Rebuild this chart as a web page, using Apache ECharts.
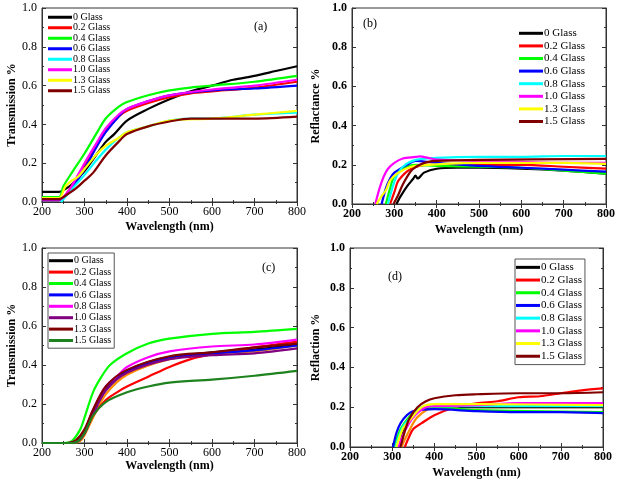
<!DOCTYPE html>
<html><head><meta charset="utf-8">
<script src="https://cdn.jsdelivr.net/npm/echarts@6/dist/echarts.min.js"></script>
<style>html,body{margin:0;padding:0;background:#fff}#c{width:618px;height:480px}</style>
</head><body><div id="c"></div>
<script>
// ---------- DATA ----------
const glassNames = ['0 Glass','0.2 Glass','0.4 Glass','0.6 Glass','0.8 Glass','1.0 Glass','1.3 Glass','1.5 Glass'];
const xTicks = [200,300,400,500,600,700,800];
const yTicks = [0.0,0.2,0.4,0.6,0.8,1.0];

// (a) Transmission
const a_00 = [[200,0.052],[240,0.052],[250,0.06],[270,0.09],[300,0.16],[330,0.25],[350,0.31],[370,0.35],[400,0.42],[450,0.48],[500,0.53],[550,0.57],[600,0.60],[650,0.63],[700,0.65],[750,0.675],[800,0.70]];
const a_02 = [[200,0.01],[240,0.01],[260,0.05],[280,0.12],[300,0.19],[330,0.30],[350,0.37],[380,0.44],[400,0.47],[450,0.51],[500,0.54],[550,0.56],[600,0.57],[700,0.59],[800,0.62]];
const a_04 = [[200,0.025],[240,0.025],[250,0.08],[270,0.15],[300,0.25],[330,0.36],[350,0.43],[380,0.49],[400,0.515],[450,0.55],[500,0.575],[550,0.59],[600,0.60],[700,0.62],[800,0.65]];
const a_06 = [[200,0.01],[240,0.01],[260,0.04],[280,0.10],[300,0.17],[330,0.29],[350,0.36],[380,0.44],[400,0.48],[450,0.52],[500,0.55],[600,0.575],[700,0.585],[800,0.60]];
const a_08 = [[245,0],[260,0.04],[280,0.09],[300,0.14],[330,0.22],[350,0.27],[380,0.33],[400,0.36],[450,0.39],[500,0.42],[550,0.43],[600,0.43],[700,0.45],[800,0.46]];
const a_10 = [[200,0.012],[240,0.012],[260,0.05],[280,0.12],[300,0.20],[330,0.31],[350,0.38],[380,0.45],[400,0.48],[450,0.52],[500,0.55],[600,0.58],[700,0.60],[800,0.63]];
const a_13 = [[200,0.02],[240,0.02],[255,0.08],[270,0.11],[285,0.13],[300,0.17],[330,0.25],[350,0.29],[380,0.33],[400,0.36],[450,0.39],[500,0.42],[600,0.43],[700,0.45],[800,0.47]];
const a_15 = [[200,0.015],[240,0.015],[260,0.04],[280,0.07],[300,0.11],[320,0.15],[350,0.24],[380,0.31],[400,0.35],[450,0.39],[500,0.415],[550,0.43],[600,0.43],[700,0.43],[800,0.44]];

// (b) Reflactance
const b_00 = [[305,0],[315,0.04],[330,0.09],[345,0.13],[350,0.145],[355,0.13],[370,0.16],[400,0.18],[450,0.185],[500,0.185],[600,0.18],[700,0.17],[800,0.155]];
const b_02 = [[290,0],[300,0.06],[310,0.12],[340,0.18],[380,0.2],[500,0.2],[600,0.2],[700,0.19],[800,0.18]];
const b_04 = [[280,0],[290,0.08],[300,0.14],[330,0.19],[350,0.2],[400,0.195],[500,0.19],[600,0.185],[700,0.17],[800,0.155]];
const b_06 = [[270,0],[280,0.08],[290,0.13],[300,0.16],[330,0.2],[350,0.22],[400,0.21],[500,0.195],[600,0.185],[700,0.175],[800,0.165]];
const b_08 = [[285,0],[295,0.08],[305,0.14],[320,0.19],[350,0.225],[400,0.235],[500,0.24],[600,0.24],[700,0.245],[800,0.245]];
const b_10 = [[255,0],[265,0.08],[275,0.14],[285,0.18],[300,0.21],[320,0.232],[350,0.24],[360,0.243],[380,0.235],[400,0.227],[500,0.22],[600,0.215],[700,0.21],[800,0.21]];
const b_13 = [[258,0],[270,0.04],[280,0.07],[290,0.12],[310,0.16],[340,0.19],[380,0.2],[500,0.21],[700,0.21],[800,0.205]];
const b_15 = [[298,0],[310,0.05],[320,0.1],[340,0.17],[360,0.2],[380,0.215],[400,0.22],[500,0.225],[800,0.23]];

// (c) Transmission
const c_00 = [[200,0],[260,0],[280,0.01],[300,0.06],[320,0.16],[350,0.28],[380,0.34],[400,0.37],[450,0.415],[500,0.44],[600,0.465],[700,0.48],[800,0.505]];
const c_02 = [[200,0],[270,0],[290,0.02],[300,0.05],[320,0.14],[350,0.22],[380,0.265],[400,0.29],[450,0.34],[500,0.39],[550,0.43],[600,0.455],[700,0.49],[800,0.52]];
const c_04 = [[200,0],[250,0],[270,0.01],[290,0.07],[300,0.13],[320,0.26],[340,0.34],[360,0.4],[400,0.46],[450,0.51],[500,0.535],[600,0.56],[700,0.57],[800,0.585]];
const c_06 = [[200,0],[265,0],[285,0.01],[300,0.05],[320,0.15],[350,0.27],[400,0.365],[500,0.44],[600,0.46],[700,0.475],[800,0.5]];
const c_08 = [[200,0],[260,0],[280,0.01],[300,0.06],[320,0.17],[350,0.29],[380,0.35],[400,0.39],[450,0.44],[500,0.47],[600,0.495],[700,0.505],[800,0.53]];
const c_10 = [[200,0],[265,0],[285,0.01],[300,0.05],[320,0.15],[350,0.27],[400,0.36],[500,0.43],[600,0.45],[700,0.46],[800,0.485]];
const c_13 = [[200,0],[260,0],[280,0.015],[300,0.07],[320,0.17],[350,0.29],[400,0.375],[500,0.445],[600,0.465],[700,0.49],[800,0.51]];
const c_15 = [[200,0],[270,0],[285,0.01],[300,0.05],[320,0.14],[350,0.21],[400,0.26],[450,0.29],[500,0.31],[600,0.325],[700,0.345],[800,0.37]];
const c_extra = [[200,0],[270,0],[290,0.01],[300,0.04],[320,0.13],[350,0.25],[400,0.35],[500,0.43],[600,0.46],[700,0.47],[800,0.5]];

// (d) Reflaction
const d_00 = [[318,0],[330,0.1],[350,0.17],[400,0.2],[500,0.2],[800,0.2]];
const d_02 = [[330,0],[340,0.05],[350,0.09],[370,0.12],[400,0.16],[450,0.2],[500,0.22],[550,0.23],[600,0.25],[650,0.255],[700,0.27],[750,0.285],[800,0.295]];
const d_04 = [[305,0],[320,0.09],[340,0.15],[360,0.19],[400,0.2],[500,0.185],[800,0.175]];
const d_06 = [[302,0],[310,0.07],[320,0.12],[335,0.16],[350,0.18],[400,0.19],[500,0.18],[600,0.175],[700,0.175],[800,0.17]];
const d_08 = [[308,0],[325,0.1],[340,0.14],[370,0.2],[400,0.205],[600,0.205],[800,0.205]];
const d_10 = [[315,0],[330,0.08],[350,0.15],[380,0.2],[400,0.205],[500,0.21],[600,0.22],[800,0.22]];
const d_13 = [[310,0],[325,0.09],[340,0.13],[370,0.2],[400,0.215],[500,0.215],[800,0.21]];
const d_15 = [[320,0],[330,0.08],[340,0.14],[360,0.2],[380,0.23],[400,0.245],[450,0.26],[500,0.265],[600,0.27],[700,0.27],[800,0.275]];
const d_extra = [[322,0],[340,0.08],[360,0.15],[400,0.2],[500,0.2],[800,0.2]];

// ---------- STYLE / LAYOUT ----------
const SERIF = '"Liberation Serif","DejaVu Serif",serif';
const colsStd = ['#000000','#ff0000','#00ff00','#0000ff','#00ffff','#ff00ff','#ffff00','#800000'];
const colsC   = ['#000000','#ff0000','#00ff00','#0000ff','#ff00ff','#800080','#800000','#1e821e'];
const ORANGE = '#ff8c00';

const panels = [
  {key:'a', grid:{left:42,top:8,width:255,height:194}, yName:'Transmission %', yGap:24, xGap:19, bold:false, fs:12,
   data:[a_00,a_02,a_04,a_06,a_08,a_10,a_13,a_15], cols:colsStd, extra:null,
   legend:{left:48,top:12,fs:10,lh:10.5,border:false}, tag:{t:'(a)',x:262,y:28}},
  {key:'b', grid:{left:352,top:8,width:254,height:196}, yName:'Reflactance %', yGap:30, xGap:20, bold:true, fs:12,
   data:[b_00,b_02,b_04,b_06,b_08,b_10,b_13,b_15], cols:colsStd, extra:null,
   legend:{left:519,top:27,fs:11,lh:12.6,border:false}, tag:{t:'(b)',x:371,y:25}},
  {key:'c', grid:{left:42,top:248,width:255,height:195}, yName:'Transmission %', yGap:24, xGap:17, bold:false, fs:12,
   data:[c_00,c_02,c_04,c_06,c_08,c_10,c_13,c_15], cols:colsC, extra:c_extra,
   legend:{left:48,top:253,fs:10,lh:11.4,border:true}, tag:{t:'(c)',x:270,y:269}},
  {key:'d', grid:{left:350,top:248,width:253,height:199}, yName:'Reflaction %', yGap:28, xGap:20, bold:true, fs:12,
   data:[d_00,d_02,d_04,d_06,d_08,d_10,d_13,d_15], cols:colsStd, extra:d_extra,
   legend:{left:515,top:259,fs:11,lh:12.7,border:true}, tag:{t:'(d)',x:396,y:278}}
];

const grid=[], xAxis=[], yAxis=[], series=[], legend=[], graphic=[];
const axLine = {show:true, lineStyle:{color:'#333', width:1}};
panels.forEach((p,gi)=>{
  grid.push(Object.assign({show:true, borderColor:'#333', borderWidth:1, containLabel:false}, p.grid));
  const tick = {show:true, inside:true, length:4, lineStyle:{color:'#333'}};
  const minor = {show:true, splitNumber:2, length:2, lineStyle:{color:'#333'}};
  const lbl = {color:'#000', fontFamily:SERIF, fontSize:p.fs, fontWeight:p.bold?'bold':'normal'};
  xAxis.push({type:'value', gridIndex:gi, min:xTicks[0], max:xTicks[xTicks.length-1], interval:100,
    axisLine:axLine, axisTick:tick, minorTick:minor, splitLine:{show:false},
    axisLabel:Object.assign({margin:4}, lbl),
    name:'Wavelength (nm)', nameLocation:'middle', nameGap:p.xGap,
    nameTextStyle:{color:'#000', fontFamily:SERIF, fontSize:12, fontWeight:'bold'}});
  xAxis.push({type:'value', gridIndex:gi, position:'top', min:200, max:800, interval:100,
    axisLine:axLine, axisTick:tick, minorTick:minor, splitLine:{show:false}, axisLabel:{show:false}});
  yAxis.push({type:'value', gridIndex:gi, min:yTicks[0], max:yTicks[yTicks.length-1], interval:0.2,
    axisLine:axLine, axisTick:tick, minorTick:minor, splitLine:{show:false},
    axisLabel:Object.assign({margin:5, formatter:v=>v.toFixed(1)}, lbl),
    name:p.yName, nameLocation:'middle', nameGap:p.yGap, nameRotate:90,
    nameTextStyle:{color:'#000', fontFamily:SERIF, fontSize:12, fontWeight:'bold'}});
  yAxis.push({type:'value', gridIndex:gi, position:'right', min:0, max:1, interval:0.2,
    axisLine:axLine, axisTick:tick, minorTick:minor, splitLine:{show:false}, axisLabel:{show:false}});
  const names=[];
  const addSeries=(nm,d,col)=>{
    series.push({type:'line', name:nm, xAxisIndex:gi*2, yAxisIndex:gi*2, data:d,
      showSymbol:false, symbol:'none', smooth:0.3, lineStyle:{color:col,width:2.2}, itemStyle:{color:col}, z:2});
  };
  if(p.extra) addSeries(p.key+'|extra', p.extra, ORANGE);
  p.data.forEach((d,i)=>{
    const nm=p.key+'|'+glassNames[i];
    names.push(nm);
    addSeries(nm,d,p.cols[i]);
  });
  legend.push({data:names, orient:'vertical', left:p.legend.left, top:p.legend.top,
    icon:'rect', itemWidth:24, itemHeight:3, itemGap:0,
    padding:p.legend.border?[2,3,2,1]:0,
    borderColor:p.legend.border?'#555':'transparent', borderWidth:p.legend.border?1:0,
    formatter:n=>n.split('|')[1], selectedMode:false,
    textStyle:{color:'#000', fontFamily:SERIF, fontSize:p.legend.fs, lineHeight:p.legend.lh, padding:[0,0,0,-4]}});
  graphic.push({type:'text', left:p.tag.x-8, top:p.tag.y-7,
    style:{text:p.tag.t, fontFamily:SERIF, fontSize:12, fill:'#000'}});
});

const chart = echarts.init(document.getElementById('c'), null, {renderer:'canvas'});
chart.setOption({animation:false, backgroundColor:'#fff', grid, xAxis, yAxis, series, legend, graphic});
</script></body></html>
